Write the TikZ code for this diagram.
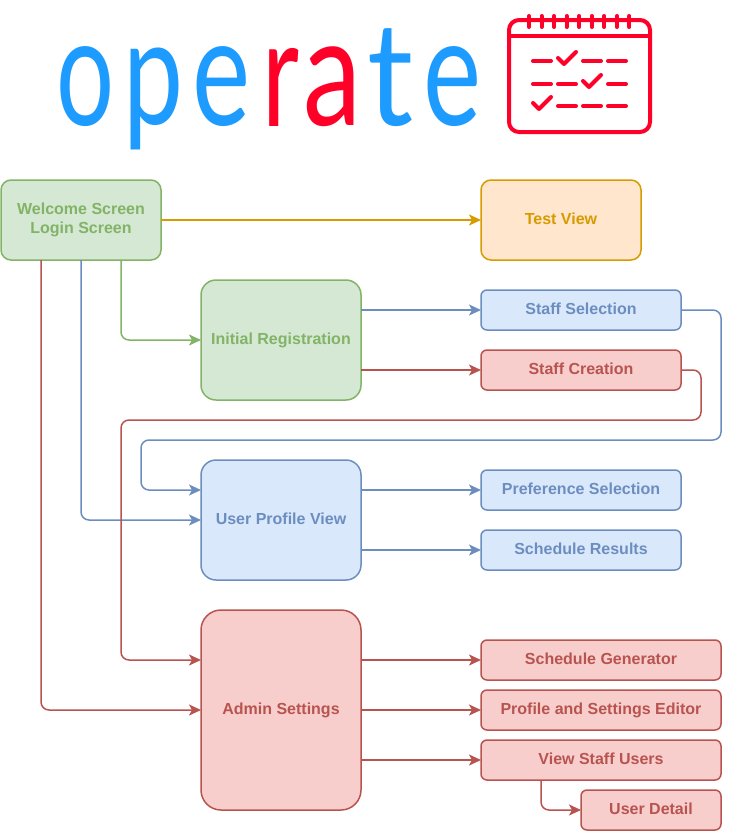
\documentclass[tikz,border=0pt]{standalone}
\usepackage{fontspec}
\setmainfont{Liberation Sans}
\newfontfamily\logofont{Lato}
\definecolor{opgreen}{HTML}{82B366}
\definecolor{opgreenbg}{HTML}{D5E8D4}
\definecolor{opblue}{HTML}{6C8EBF}
\definecolor{opbluebg}{HTML}{DAE8FC}
\definecolor{opred}{HTML}{B85450}
\definecolor{opredbg}{HTML}{F8CECC}
\definecolor{opgold}{HTML}{D79B00}
\definecolor{opgoldbg}{HTML}{FFE6CC}
\definecolor{logoblue}{HTML}{1E9BFF}
\definecolor{logored}{HTML}{FF0029}
\usetikzlibrary{arrows.meta,positioning,calc}
\begin{document}
\begin{tikzpicture}[
  x=1pt,y=-1pt,
  box/.style={line width=1.5pt,align=center,inner sep=0pt,outer sep=0pt,
    font=\fontsize{16}{19}\selectfont\bfseries},
  oneline/.style={box,text height=12pt,text depth=4pt},
  large/.style={oneline,rounded corners=15pt,minimum width=160pt,minimum height=120pt},
  small/.style={oneline,rounded corners=6pt,minimum width=200pt,minimum height=40pt},
  wide/.style={small,minimum width=240pt},
  greenbox/.style={draw=opgreen,fill=opgreenbg,text=opgreen},
  bluebox/.style={draw=opblue,fill=opbluebg,text=opblue},
  redbox/.style={draw=opred,fill=opredbg,text=opred},
  goldbox/.style={draw=opgold,fill=opgoldbg,text=opgold},
  arr/.style={-{Stealth[length=12pt,width=11pt,inset=3pt]},line width=1.5pt,rounded corners=8pt},
  icon/.style={logored,line width=4pt,line cap=round,line join=round},
  letter/.style={inner sep=0pt,outer sep=0pt,font=\logofont}]
\useasboundingbox (0,0) rectangle (730,833);
\foreach \ch/\col/\x/\y/\w/\h in {o/logoblue/86/87/58/80,p/logoblue/154/99/60/102,e/logoblue/222/87/58/80,
    r/logored/281/87/37/78,a/logored/333/87/58/80,t/logoblue/391/78/46/98,e/logoblue/453/87/58/80}
  \node[letter,text=\col] (logo\x) at (\x,\y) {\resizebox*{\w pt}{\h pt}{\ch}};
\draw[icon,rounded corners=10pt] (509,20) rectangle (650,132);
\draw[icon] (509,36) -- (650,36);
\foreach \x in {0,...,8}
  \draw[icon] ({529+12.55*\x},16) -- ({529+12.55*\x},27);
\foreach \x/\y in {533/61,583/61,608/61,533/84,558/84,608/84,558/106,583/106,608/106}
  \draw[icon] (\x,\y) -- ++(18,0);
\foreach \x/\y in {558/61,583/84,533/106}
  \draw[icon] (\x,\y-3) -- ++(6,6) -- ++(12,-12);

\node[box,greenbox,rounded corners=10pt,minimum width=160pt,minimum height=80pt] (welcome) at (81,220) {Welcome Screen\\Login Screen};
\node[large,goldbox,rounded corners=10pt,minimum height=80pt,right=320pt of welcome] (test) {Test View};
\node[large,greenbox,below right=20pt and 40pt of welcome] (init) {Initial Registration};
\node[small,bluebox,right=120pt of init,yshift=30pt] (selection) {Staff Selection};
\node[small,redbox,right=120pt of init,yshift=-30pt] (creation) {Staff Creation};
\node[large,bluebox,below=60pt of init] (profile) {User Profile View};
\node[small,bluebox,right=120pt of profile,yshift=30pt] (pref) {Preference Selection};
\node[small,bluebox,right=120pt of profile,yshift=-30pt] (results) {Schedule Results};
\node[large,redbox,minimum height=200pt,rounded corners=20pt,below=30pt of profile] (admin) {Admin Settings};
\node[wide,redbox,right=120pt of admin,yshift=50pt] (generator) {Schedule Generator};
\node[wide,redbox,right=120pt of admin] (editor) {Profile and Settings Editor};
\node[wide,redbox,right=120pt of admin,yshift=-50pt] (staff) {View Staff Users};
\node[small,redbox,minimum width=140pt,anchor=north east] (detail) at ([yshift=-10pt]staff.south east) {User Detail};

\draw[arr,opgold] (welcome) -- (test);
\draw[arr,opgreen] ([xshift=40pt]welcome.south) |- (init);
\draw[arr,opblue] (welcome) |- (profile);
\draw[arr,opred] ([xshift=-40pt]welcome.south) |- (admin);
\draw[arr,opblue] (init.east |- selection) -- (selection);
\draw[arr,opred] (init.east |- creation) -- (creation);
\draw[arr,opblue] (selection.east) -- ++(40,0) -- ++(0,130) -- ++(-580,0) -- ++(0,50) -- ([yshift=30pt]profile.west);
\draw[arr,opred] (creation.east) -- ++(20,0) -- ++(0,50) -- ++(-580,0) -- ++(0,240) -- ([yshift=50pt]admin.west);
\draw[arr,opblue] (profile.east |- pref) -- (pref);
\draw[arr,opblue] (profile.east |- results) -- (results);
\draw[arr,opred] (admin.east |- generator) -- (generator);
\draw[arr,opred] (admin) -- (editor);
\draw[arr,opred] (admin.east |- staff) -- (staff);
\draw[arr,opred] ([xshift=-60pt]staff.south) |- (detail);
\end{tikzpicture}
\end{document}
